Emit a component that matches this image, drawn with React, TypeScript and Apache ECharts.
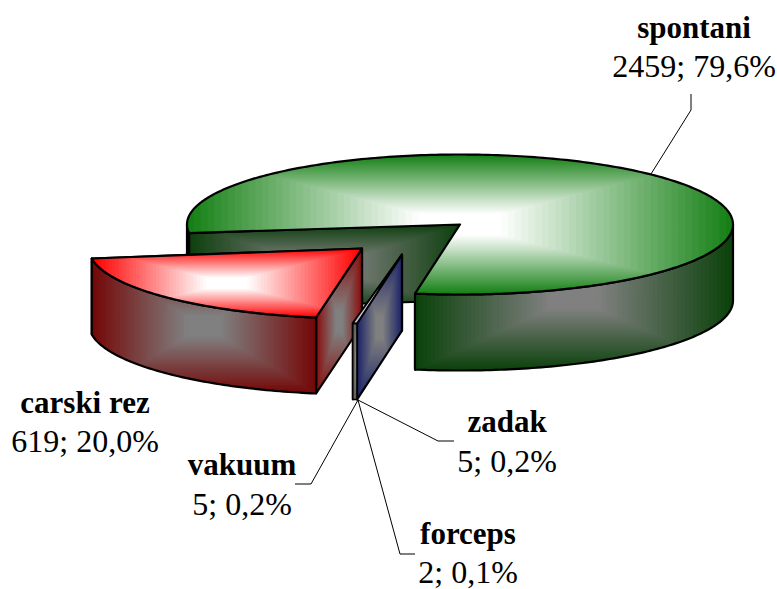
import React, { useEffect, useRef } from "react";
import * as echarts from "echarts";

const categories = ["spontani", "zadak", "forceps", "vakuum", "carski rez"];
const values = [2459, 5, 2, 5, 619];

// Drawing order, back to front (indices into categories)
const drawOrder = [0, 4, 3, 2, 1];

// Geometry of the tilted pie
const CX = 460, CY = 224.5, RX = 273, RY = 70, DEPTH = 76;
const FIRST_ANGLE = 263;
const explode: [number, number][] = [[0, 0], [-58, 30], [-58, 30], [-58, 30], [-98, 24]];
const angleShift = [0, 0, -0.25, -0.5, -1.2];

// Which cut faces each slice shows: start edge, end edge
const showCut = [[true, true], [true, false], [false, false], [false, true], [true, true]];

const palette = [
  { top: "#168016", side: "#0c420c", cut: "#0f400f" },
  { top: "#b0b0d0", side: "#62625a", cut: "#1c2468" },
  { top: "#e8e8c0", side: "#70705a", cut: "#55553c" },
  { top: "#e8e8d8", side: "#62625a", cut: "#5a5a50" },
  { top: "#ff0000", side: "#740808", cut: "#8a0c0c" },
];
const TOP_CENTER = "#ffffff";
const SIDE_CENTER = "#808080";
const PLATEAU = 0.86;

const labelLayout = [
  { x: 694, y1: 27, y2: 66 },
  { x: 507, y1: 421, y2: 461 },
  { x: 468, y1: 533, y2: 572 },
  { x: 242, y1: 464, y2: 504 },
  { x: 85, y1: 402, y2: 441 },
];
const leaders: number[][][] = [
  [[651, 174], [691, 110], [691, 94]],
  [[358, 400], [438, 441], [454, 441]],
  [[358, 400], [400, 554], [415, 554]],
  [[358, 400], [311, 484], [295, 484]],
];

type P = number[];
const total = values.reduce((a, b) => a + b, 0);

function pct(v: number) {
  return ((v / total) * 100).toFixed(1).replace(".", ",") + "%";
}

function hex(c: string) {
  return [1, 3, 5].map((i) => parseInt(c.slice(i, i + 2), 16));
}
function mix(a: string, b: string, t: number) {
  const A = hex(a), B = hex(b);
  return `rgb(${A.map((v, i) => Math.round(v + (B[i] - v) * t)).join(",")})`;
}

// Clip a polygon to an axis-aligned rectangle (Sutherland-Hodgman)
function clip(poly: P[], x0: number, y0: number, x1: number, y1: number) {
  const edges: [(p: P) => boolean, (a: P, b: P) => P][] = [
    [(p) => p[0] >= x0, (a, b) => [x0, a[1] + ((b[1] - a[1]) * (x0 - a[0])) / (b[0] - a[0])]],
    [(p) => p[0] <= x1, (a, b) => [x1, a[1] + ((b[1] - a[1]) * (x1 - a[0])) / (b[0] - a[0])]],
    [(p) => p[1] >= y0, (a, b) => [a[0] + ((b[0] - a[0]) * (y0 - a[1])) / (b[1] - a[1]), y0]],
    [(p) => p[1] <= y1, (a, b) => [a[0] + ((b[0] - a[0]) * (y1 - a[1])) / (b[1] - a[1]), y1]],
  ];
  let out = poly;
  for (const [inside, cross] of edges) {
    const src = out;
    out = [];
    for (let i = 0; i < src.length; i++) {
      const a = src[i], b = src[(i + 1) % src.length];
      const ia = inside(a), ib = inside(b);
      if (ia) out.push(a);
      if (ia !== ib) out.push(cross(a, b));
    }
    if (!out.length) break;
  }
  return out;
}

function outline(poly: P[], width: number) {
  return {
    type: "polygon",
    shape: { points: poly },
    style: { fill: "none", stroke: "#000", lineWidth: width, lineJoin: "round" },
  };
}

// A face filled with a banded rectangular path gradient plus its outline
function face(poly: P[], edge: string, center: string, strokeWidth: number, bands = 40) {
  const xs = poly.map((p) => p[0]), ys = poly.map((p) => p[1]);
  const x0 = Math.min(...xs), x1 = Math.max(...xs), y0 = Math.min(...ys), y1 = Math.max(...ys);
  const cx = (x0 + x1) / 2, cy = (y0 + y1) / 2, hw = (x1 - x0) / 2, hh = (y1 - y0) / 2;
  const els: any[] = [];
  for (let k = 0; k < bands; k++) {
    const s = 1 - k / bands;
    const pts = k === 0 ? poly : clip(poly, cx - hw * s, cy - hh * s, cx + hw * s, cy + hh * s);
    if (pts.length < 3) continue;
    els.push({
      type: "polygon",
      shape: { points: pts },
      style: { fill: mix(edge, center, Math.min(1, k / (bands - 1) / PLATEAU)), stroke: null },
    });
  }
  if (strokeWidth > 0) els.push(outline(poly, strokeWidth));
  return els;
}

function sliceAngles(index: number) {
  let a = FIRST_ANGLE;
  for (let i = 0; i < index; i++) a += (values[i] / total) * 360;
  return [a + angleShift[index], a + angleShift[index] + (values[index] / total) * 360];
}

function renderSlice(params: any, api: any) {
  const idx = api.value(0) as number;
  const [a0, a1] = sliceAngles(idx);
  const [ox, oy] = explode[idx];
  const cx = CX + ox, cy = CY + oy;
  const at = (deg: number): P => {
    const r = (deg * Math.PI) / 180;
    return [cx + RX * Math.sin(r), cy - RY * Math.cos(r)];
  };
  const down = (p: P): P => [p[0], p[1] + DEPTH];
  const arc = (from: number, to: number) => {
    const n = Math.max(2, Math.ceil(to - from));
    return Array.from({ length: n + 1 }, (_, i) => at(from + ((to - from) * i) / n));
  };
  const wallOf = (from: number, to: number) => {
    const top = arc(from, to);
    return [...top, ...top.slice().reverse().map(down)];
  };
  const colors = palette[idx];
  const thin = a1 - a0 < 5;
  const sw = thin ? 0 : 2.2;
  const bands = thin ? 12 : 40;
  const apex: P = [cx, cy];
  const children: any[] = [];

  const cut = (deg: number) =>
    face([apex, at(deg), down(at(deg)), down(apex)], colors.cut, SIDE_CENTER, 2.2, 40);
  if (showCut[idx][1]) children.push(...cut(a1));
  if (showCut[idx][0]) children.push(...cut(a0));

  // Outer wall: only the part of the rim facing the viewer (angles 90..270, modulo 360)
  for (let k = -1; k <= 1; k++) {
    const from = Math.max(a0, 90 + 360 * k), to = Math.min(a1, 270 + 360 * k);
    if (to > from) children.push(...face(wallOf(from, to), colors.side, SIDE_CENTER, sw, bands));
  }
  children.push(...face([apex, ...arc(a0, a1)], colors.top, TOP_CENTER, sw, bands));

  // The thin exploded slices share one outline, added with the last one drawn
  if (idx === drawOrder[drawOrder.length - 1]) {
    const lastThin = sliceAngles(3)[1];
    children.push(outline(wallOf(a0, lastThin), 1.6));
    children.push(outline([apex, ...arc(a0, lastThin)], 1.7));
  }

  return {
    type: "group",
    children: children.map((c) => ({ ...c, silent: true })),
  };
}

export default function App() {
  const ref = useRef<HTMLDivElement>(null);
  useEffect(() => {
    const chart = echarts.init(ref.current!, null, { renderer: "svg" });
    const FONT = '"Liberation Serif", "Times New Roman", serif';
    const graphics: any[] = [];
    categories.forEach((name, i) => {
      const l = labelLayout[i];
      graphics.push({
        type: "text", x: l.x, y: l.y1, z: 10,
        style: { text: name, fontFamily: FONT, fontSize: 31, fontWeight: "bold", fill: "#000", align: "center", verticalAlign: "middle" },
      });
      graphics.push({
        type: "text", x: l.x, y: l.y2, z: 10,
        style: { text: `${values[i]}; ${pct(values[i])}`, fontFamily: FONT, fontSize: 32, fill: "#000", align: "center", verticalAlign: "middle" },
      });
    });
    leaders.forEach((pts) => {
      graphics.push({
        type: "polyline", z: 1,
        shape: { points: pts },
        style: { fill: "none", stroke: "#000", lineWidth: 1 },
      });
    });
    chart.setOption({
      animation: false,
      backgroundColor: "#fff",
      graphic: graphics,
      series: [
        {
          type: "custom",
          coordinateSystem: "none",
          clip: false,
          silent: true,
          z: 2,
          renderItem: renderSlice,
          data: drawOrder.map((i) => [i, values[i]]),
        },
      ],
    });
    return () => chart.dispose();
  }, []);
  return <div ref={ref} style={{ position: "fixed", left: 0, top: 0, width: 777, height: 589 }} />;
}
